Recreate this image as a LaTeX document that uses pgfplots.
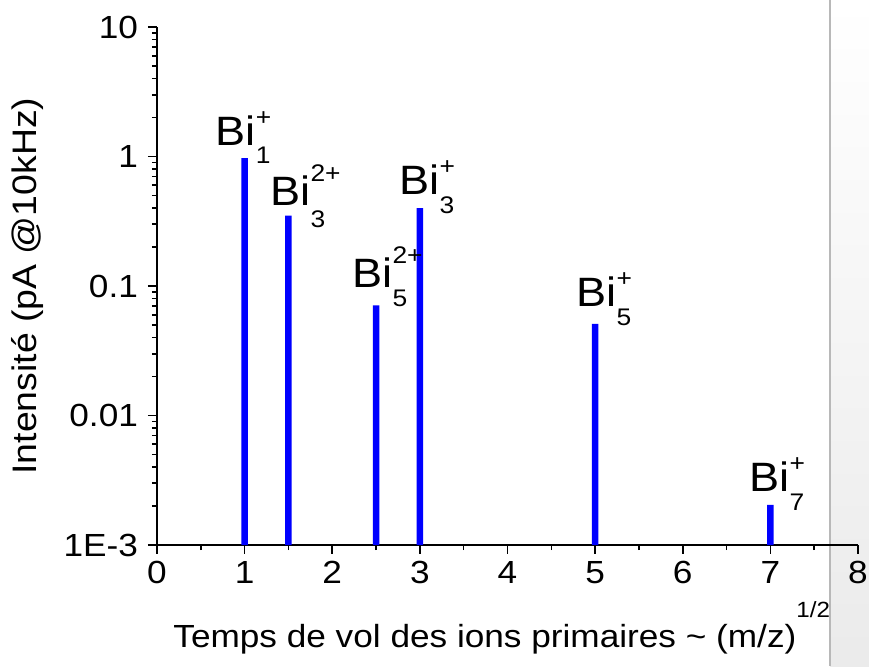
\documentclass[border=0pt]{standalone}
\usepackage{fontspec}
\setmainfont{Liberation Sans}[FakeStretch=1.1]
\usepackage{pgfplots}
\usepackage{pgfplotstable}
\pgfplotsset{compat=1.18}

% Primary ion peaks: time of flight ~ sqrt(m/z), intensity in pA
\pgfplotstableread{
x    y
1    0.97
1.5  0.35
2.5  0.071
3    0.40
5    0.051
7    0.00204
}\ionsdata

% Bi cluster label: \ion{n}{charge}{subscript drop}{superscript raise}
\newcommand\ion[4]{Bi\makebox[0pt][l]{\raisebox{-#3pt}{\fontsize{12}{13}\selectfont #1}}\raisebox{#4pt}{\fontsize{12}{13}\selectfont #2}}

\begin{document}
\begin{tikzpicture}
\useasboundingbox (0,0) rectangle (434.5pt,333pt);
% page edge on the right
\shade[top color=white, bottom color=black!8] (415pt,0) rectangle (434.5pt,333pt);
\draw[black!28, line width=1.2pt] (415pt,0) -- (415pt,333pt);
\begin{axis}[
  at={(78.5pt,60.5pt)}, anchor=south west,
  scale only axis, width=350.5pt, height=259pt,
  ymode=log, log origin y=infty,
  xmin=0, xmax=8, ymin=0.001, ymax=10,
  axis x line=bottom, axis y line=left,
  axis line style={-, line width=0.9pt},
  xtick={0,1,2,3,4,5,6,7,8}, xticklabels={0,1,2,3,4,5,6,7,8},
  minor xtick={0.5,1.5,2.5,3.5,4.5,5.5,6.5,7.5},
  ytick={0.001,0.01,0.1,1,10}, yticklabels={1E-3,0.01,0.1,1,10},
  minor ytick={0.002,0.003,0.004,0.005,0.006,0.007,0.008,0.009,
               0.02,0.03,0.04,0.05,0.06,0.07,0.08,0.09,
               0.2,0.3,0.4,0.5,0.6,0.7,0.8,0.9,
               2,3,4,5,6,7,8,9},
  tick align=outside,
  major tick length=4.5pt, minor tick length=2.5pt,
  tick style={black, line width=0.8pt},
  tick label style={font=\fontsize{16}{19}\selectfont},
  yticklabel style={xshift=-1.5pt},
  /pgf/number format/assume math mode=true,
  clip=false,
]
\addplot[ybar, bar width=3.2pt, fill=blue, draw=none] table {\ionsdata};

\begin{scope}[every node/.style={anchor=base west, inner sep=0pt, font=\fontsize{20.5}{23}\selectfont}]
\node at (axis cs:0.665,1.227)  {\ion{1}{+}{9}{10}};
\node at (axis cs:1.29,0.422)   {\ion{3}{2+}{11}{12}};
\node at (axis cs:2.226,0.0982) {\ion{5}{2+}{9.5}{12}};
\node at (axis cs:2.763,0.505)  {\ion{3}{+}{9.5}{10}};
\node at (axis cs:4.783,0.0689) {\ion{5}{+}{9.5}{10}};
\node at (axis cs:6.758,0.00261){\ion{7}{+}{9.5}{10}};
\end{scope}
\end{axis}
% axis titles
\node[rotate=90, anchor=base, inner sep=0pt, font=\fontsize{17}{20}\selectfont]
  at (18.5pt,190pt) {Intensité (pA @10kHz)};
\node[anchor=base west, inner sep=0pt, font=\fontsize{16}{19}\selectfont]
  at (86.5pt,9.5pt) {Temps de vol des ions primaires \textasciitilde{} (m/z)\raisebox{15pt}{\fontsize{11}{13}\selectfont 1/2}};
\end{tikzpicture}
\end{document}
